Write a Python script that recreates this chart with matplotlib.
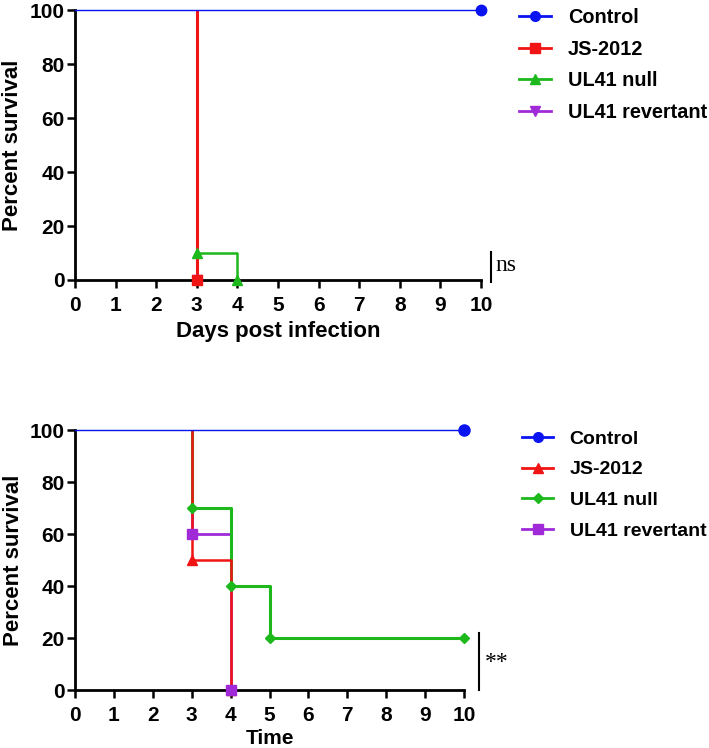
import matplotlib
matplotlib.use("Agg")
import matplotlib.pyplot as plt
from matplotlib.lines import Line2D

plt.rcParams['font.family'] = ['Liberation Sans', 'DejaVu Sans']
plt.rcParams['font.weight'] = 'bold'

# ---------------- data ----------------
series_names = ["Control", "JS-2012", "UL41 null", "UL41 revertant"]
xticks = [0, 1, 2, 3, 4, 5, 6, 7, 8, 9, 10]
yticks = [0, 20, 40, 60, 80, 100]

# top panel (days post infection)
top_control_t = [0, 10]
top_control_s = [100, 100]
top_js_t = [0, 3]
top_js_s = [100, 0]
top_null_t = [0, 3, 4]
top_null_s = [100, 10, 0]
top_rev_t = [0, 3]
top_rev_s = [100, 0]
top_sig = "ns"

# bottom panel (time)
bot_control_t = [0, 10]
bot_control_s = [100, 100]
bot_js_t = [0, 3, 4]
bot_js_s = [100, 50, 0]
bot_null_t = [0, 3, 4, 5, 10]
bot_null_s = [100, 70, 40, 20, 20]
bot_rev_t = [0, 3, 4]
bot_rev_s = [100, 60, 0]
bot_sig = "**"

BLUE = "#0a14f0"
RED = "#f01414"
GREEN = "#1cb81c"
PURPLE = "#a02ad8"


def step_path(t, s):
    xs, ys = [t[1]], [s[0]]
    for i in range(1, len(t)):
        xs.append(t[i]); ys.append(s[i])
        if i + 1 < len(t):
            xs.append(t[i + 1]); ys.append(s[i])
    return xs, ys


def style_axes(ax, xlabel, ylab_x, xlab_y, xlab_size):
    ax.set_xlim(0, 10)
    ax.set_ylim(0, 100)
    ax.set_xticks(xticks)
    ax.set_yticks(yticks)
    for sp in ['top', 'right']:
        ax.spines[sp].set_visible(False)
    for sp in ['left', 'bottom']:
        ax.spines[sp].set_linewidth(2.0)
        ax.spines[sp].set_color('black')
    ax.tick_params(direction='out', length=5.5, width=1.8, labelsize=15)
    ax.tick_params(axis='x', pad=6)
    ax.tick_params(axis='y', pad=2)
    for lab in ax.get_xticklabels() + ax.get_yticklabels():
        lab.set_fontweight('bold')
    ax.set_ylabel("Percent survival", fontsize=16, fontweight='bold', va='center')
    ax.yaxis.set_label_coords(ylab_x, 0.5)
    ax.set_xlabel(xlabel, fontsize=xlab_size, fontweight='bold', va='center')
    ax.xaxis.set_label_coords(0.5, xlab_y)


fig = plt.figure(figsize=(7.09, 7.48), dpi=100)

# ---------------- top panel ----------------
ax1 = fig.add_axes([75 / 709, 1 - 280 / 748, 406 / 709, 270 / 748])
style_axes(ax1, "Days post infection", -0.155, -0.19, 16)

top_series = [
    (top_rev_t, top_rev_s, PURPLE, 'v', 2.0),
    (top_null_t, top_null_s, GREEN, '^', 1.8),
    (top_js_t, top_js_s, RED, 's', 2.2),
]
for t, s, c, m, lw in top_series:
    xs, ys = step_path(t, s)
    ax1.plot(xs, ys, color=c, lw=lw, clip_on=False, zorder=3, solid_capstyle='butt')
for t, s, c, m, lw in top_series:
    ax1.plot(t[1:], s[1:], ls='none', marker=m, color=c, ms=7.5, clip_on=False, zorder=5)
ax1.plot(top_control_t, top_control_s, color=BLUE, lw=1.0, clip_on=False, zorder=4)
ax1.plot(top_control_t[-1:], top_control_s[-1:], ls='none', marker='o', color=BLUE, ms=7.5,
         clip_on=False, zorder=6)

h1 = [Line2D([], [], color=BLUE, marker='o', lw=2, ms=7),
      Line2D([], [], color=RED, marker='s', lw=2, ms=7),
      Line2D([], [], color=GREEN, marker='^', lw=2, ms=7),
      Line2D([], [], color=PURPLE, marker='v', lw=2, ms=7)]
ax1.legend(h1, series_names, loc='upper left', bbox_to_anchor=(519 / 709, 1 - 8 / 748),
           bbox_transform=fig.transFigure, frameon=False,
           handlelength=1.6, handletextpad=0.85, labelspacing=0.64, borderpad=0, borderaxespad=0,
           prop={'weight': 'bold', 'size': 14.3})

ax1.plot([10.25, 10.25], [-0.7, 10.2], color='black', lw=1.5, clip_on=False)
ax1.text(10.35, 5.2, top_sig, fontsize=17, family='Liberation Serif', fontweight='normal',
         ha='left', va='center', clip_on=False)

# ---------------- bottom panel ----------------
ax2 = fig.add_axes([75 / 709, 1 - 690 / 748, 389 / 709, 260 / 748])
style_axes(ax2, "Time", -0.158, -0.185, 15)

bot_series = [
    (bot_rev_t, bot_rev_s, PURPLE, 's', 2.0),
    (bot_null_t, bot_null_s, GREEN, 'D', 2.2),
    (bot_js_t, bot_js_s, RED, '^', 1.8),
]
for t, s, c, m, lw in bot_series:
    xs, ys = step_path(t, s)
    ax2.plot(xs, ys, color=c, lw=lw, clip_on=False, zorder=3, solid_capstyle='butt')
for t, s, c, m, lw in reversed(bot_series):
    ax2.plot(t[1:], s[1:], ls='none', marker=m, color=c, ms=7.5 if m != 'D' else 5.5,
             clip_on=False, zorder=5)
ax2.plot(bot_control_t, bot_control_s, color=BLUE, lw=1.0, clip_on=False, zorder=4)
ax2.plot(bot_control_t[-1:], bot_control_s[-1:], ls='none', marker='o', color=BLUE, ms=8,
         clip_on=False, zorder=6)

h2 = [Line2D([], [], color=BLUE, marker='o', lw=2, ms=7),
      Line2D([], [], color=RED, marker='^', lw=2, ms=7),
      Line2D([], [], color=GREEN, marker='D', lw=2, ms=5),
      Line2D([], [], color=PURPLE, marker='s', lw=2, ms=7)]
ax2.legend(h2, series_names, loc='upper left', bbox_to_anchor=(522 / 709, 1 - 430 / 748),
           bbox_transform=fig.transFigure, frameon=False,
           handlelength=1.6, handletextpad=0.85, labelspacing=0.68, borderpad=0, borderaxespad=0,
           prop={'weight': 'bold', 'size': 14})

ax2.plot([10.39, 10.39], [0, 22], color='black', lw=1.5, clip_on=False)
ax2.text(10.53, 10.5, bot_sig, fontsize=17, family='Liberation Serif', fontweight='normal',
         ha='left', va='center', clip_on=False)

fig.savefig("out.png", dpi=100)
